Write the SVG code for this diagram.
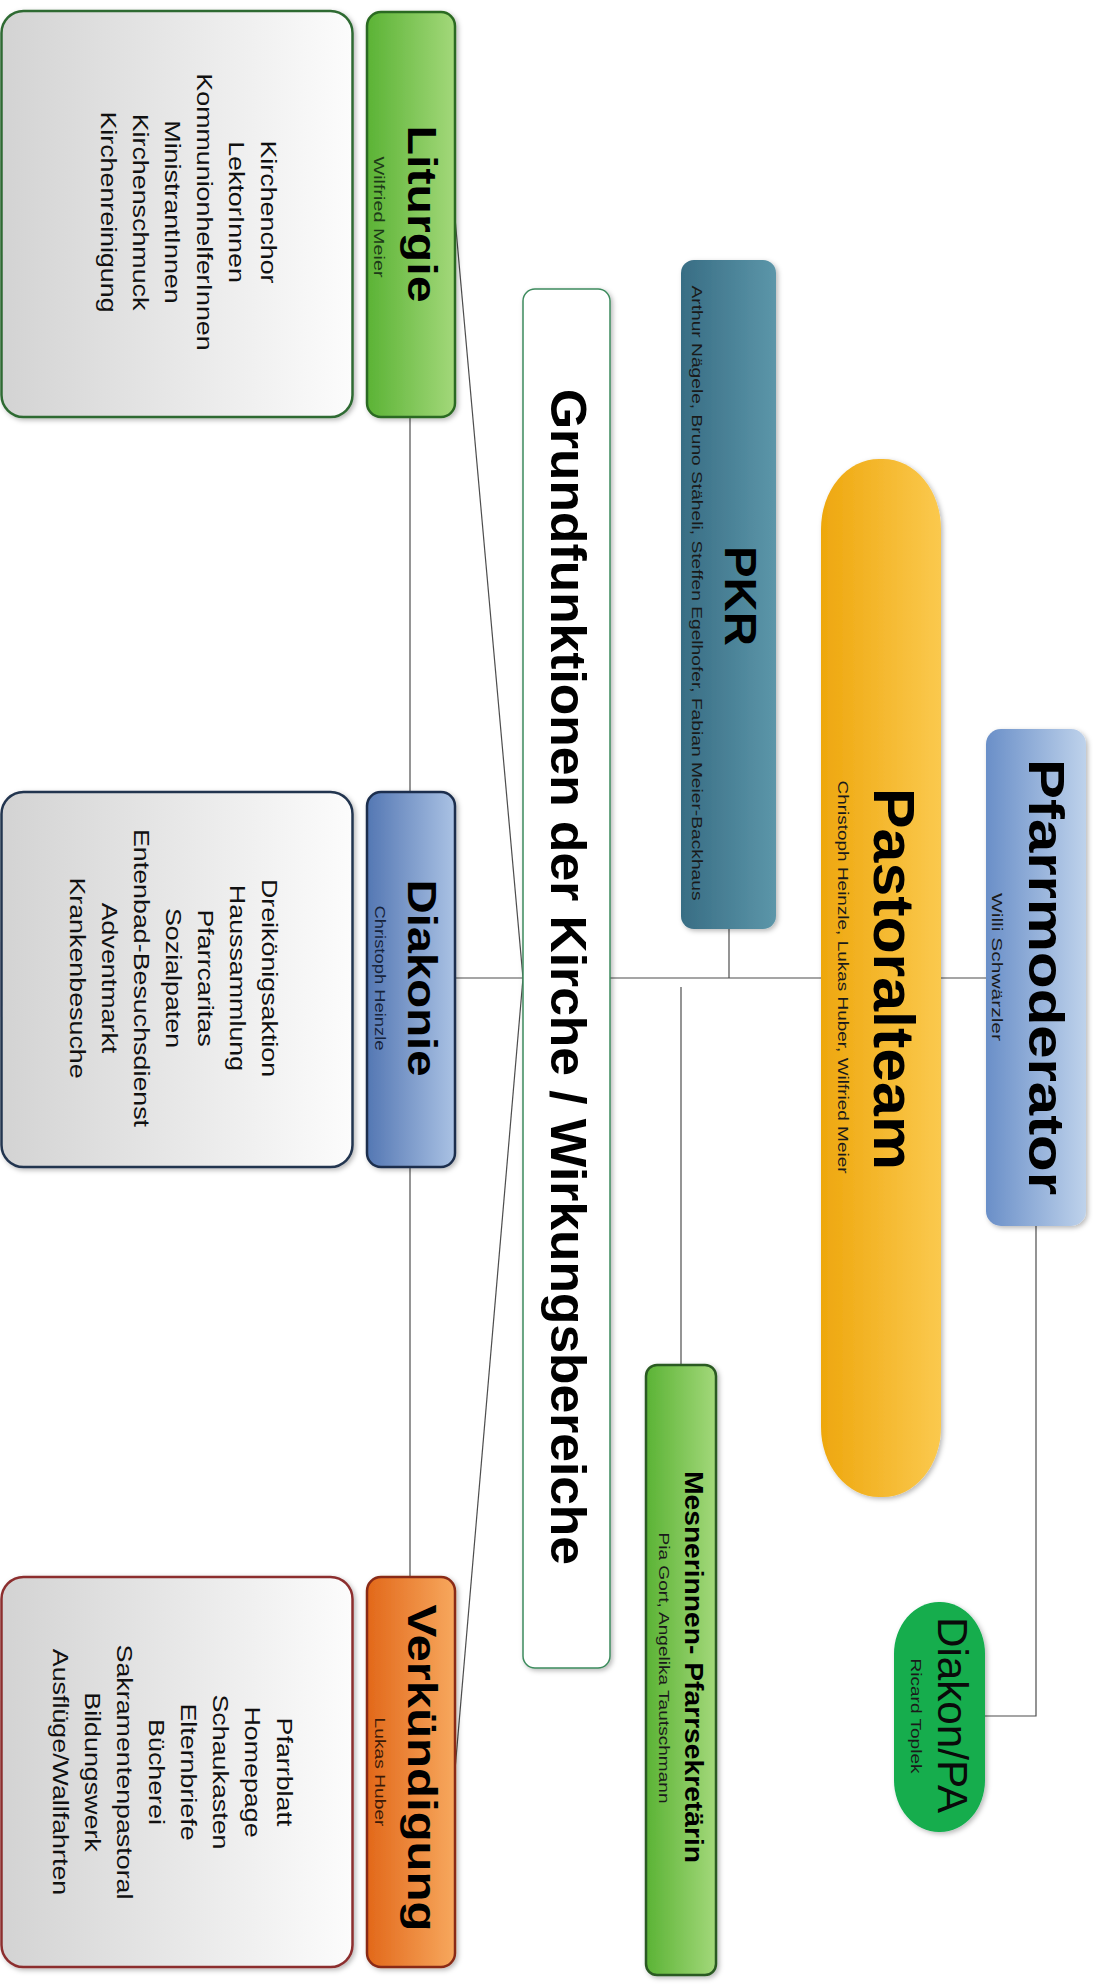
<svg xmlns="http://www.w3.org/2000/svg" width="1093" height="1986" viewBox="0 0 1093 1986">
<defs>
<linearGradient id="gList" x1="0" y1="0" x2="1" y2="0"><stop offset="0" stop-color="#d3d3d3"/><stop offset="1" stop-color="#fcfcfc"/></linearGradient>
<linearGradient id="gGreen" x1="0" y1="0" x2="1" y2="0"><stop offset="0" stop-color="#5bb335"/><stop offset="1" stop-color="#a3d87a"/></linearGradient>
<linearGradient id="gBlue" x1="0" y1="0" x2="1" y2="0"><stop offset="0" stop-color="#5477b3"/><stop offset="1" stop-color="#aac2e4"/></linearGradient>
<linearGradient id="gOrange" x1="0" y1="0" x2="1" y2="0"><stop offset="0" stop-color="#e2681a"/><stop offset="1" stop-color="#f7a85e"/></linearGradient>
<linearGradient id="gTeal" x1="0" y1="0" x2="1" y2="0"><stop offset="0" stop-color="#386d84"/><stop offset="1" stop-color="#5c96a9"/></linearGradient>
<linearGradient id="gYellow" x1="0" y1="0" x2="1" y2="0"><stop offset="0" stop-color="#eea70e"/><stop offset="1" stop-color="#fbc94e"/></linearGradient>
<linearGradient id="gLightBlue" x1="0" y1="0" x2="1" y2="0"><stop offset="0" stop-color="#6a8fc8"/><stop offset="1" stop-color="#bed2eb"/></linearGradient>
<filter id="sh" x="-20%" y="-5%" width="140%" height="110%"><feDropShadow dx="2" dy="2" stdDeviation="2.5" flood-color="#000" flood-opacity="0.28"/></filter>
</defs>
<style>
text{font-family:"Liberation Sans",Arial,sans-serif;fill:#111;}
.b{font-weight:bold;fill:#000;}
.list{font-size:22px;}
.small{font-size:14px;fill:#1a1a1a;}
.line{stroke:#4d4d4d;stroke-width:1.2;fill:none;}
</style>
<rect width="1093" height="1986" fill="#fff"/>

<g id="connectors">
<line class="line" x1="410" y1="417" x2="410" y2="1577"/>
<line class="line" x1="455" y1="978" x2="986" y2="978"/>
<line class="line" x1="455" y1="218" x2="523" y2="978"/>
<line class="line" x1="523" y1="978" x2="455" y2="1770"/>
<line class="line" x1="729" y1="929" x2="729" y2="978"/>
<line class="line" x1="681" y1="987" x2="681" y2="1365"/>
<polyline class="line" points="1036,1226 1036,1716 985,1716"/>
</g>

<g id="liturgie-list">
<rect x="1.5" y="11" width="351" height="406" rx="22" ry="22" fill="url(#gList)" stroke="#2f6a33" stroke-width="2.5" filter="url(#sh)"/>
<text class="list" text-anchor="middle" transform="translate(0,212) rotate(90) scale(1.22,1)"><tspan x="0" y="-261">Kirchenchor</tspan><tspan x="0" y="-229">LektorInnen</tspan><tspan x="0" y="-197">KommunionhelferInnen</tspan><tspan x="0" y="-165">MinistrantInnen</tspan><tspan x="0" y="-133">Kirchenschmuck</tspan><tspan x="0" y="-101">Kirchenreinigung</tspan></text>
</g>
<g id="liturgie">
<rect x="367" y="12" width="88" height="405" rx="14" ry="14" fill="url(#gGreen)" stroke="#2c6a22" stroke-width="2.5" filter="url(#sh)"/>
<text class="b" font-size="40" text-anchor="middle" textLength="177" lengthAdjust="spacingAndGlyphs" transform="translate(408,214) rotate(90)">Liturgie</text>
<text class="small" text-anchor="middle" textLength="121" lengthAdjust="spacingAndGlyphs" transform="translate(374,217) rotate(90)" style="fill:#1d3a18">Wilfried Meier</text>
</g>

<g id="diakonie-list">
<rect x="1.5" y="792" width="351" height="375" rx="22" ry="22" fill="url(#gList)" stroke="#22344f" stroke-width="2.5" filter="url(#sh)"/>
<text class="list" text-anchor="middle" transform="translate(0,978) rotate(90) scale(1.22,1)"><tspan x="0" y="-262">Dreikönigsaktion</tspan><tspan x="0" y="-230">Haussammlung</tspan><tspan x="0" y="-198">Pfarrcaritas</tspan><tspan x="0" y="-166">Sozialpaten</tspan><tspan x="0" y="-134">Entenbad-Besuchsdienst</tspan><tspan x="0" y="-102">Adventmarkt</tspan><tspan x="0" y="-70">Krankenbesuche</tspan></text>
</g>
<g id="diakonie">
<rect x="367" y="792" width="88" height="375" rx="14" ry="14" fill="url(#gBlue)" stroke="#1d2f4d" stroke-width="2.5" filter="url(#sh)"/>
<text class="b" font-size="40" text-anchor="middle" textLength="197" lengthAdjust="spacingAndGlyphs" transform="translate(408,978) rotate(90)">Diakonie</text>
<text class="small" text-anchor="middle" textLength="145" lengthAdjust="spacingAndGlyphs" transform="translate(375,978) rotate(90)" style="fill:#16233a">Christoph Heinzle</text>
</g>

<g id="verkuendigung-list">
<rect x="1.5" y="1577" width="351" height="390" rx="22" ry="22" fill="url(#gList)" stroke="#8c2f2f" stroke-width="2.5" filter="url(#sh)"/>
<text class="list" text-anchor="middle" transform="translate(0,1772) rotate(90) scale(1.22,1)"><tspan x="0" y="-277">Pfarrblatt</tspan><tspan x="0" y="-245">Homepage</tspan><tspan x="0" y="-213">Schaukasten</tspan><tspan x="0" y="-181">Elternbriefe</tspan><tspan x="0" y="-149">Bücherei</tspan><tspan x="0" y="-117">Sakramentenpastoral</tspan><tspan x="0" y="-85">Bildungswerk</tspan><tspan x="0" y="-53">Ausflüge/Wallfahrten</tspan></text>
</g>
<g id="verkuendigung">
<rect x="367" y="1577" width="88" height="390" rx="14" ry="14" fill="url(#gOrange)" stroke="#8a2c17" stroke-width="2.5" filter="url(#sh)"/>
<text class="b" font-size="40" text-anchor="middle" textLength="327" lengthAdjust="spacingAndGlyphs" transform="translate(408,1768) rotate(90)">Verkündigung</text>
<text class="small" text-anchor="middle" textLength="109" lengthAdjust="spacingAndGlyphs" transform="translate(375,1772) rotate(90)" style="fill:#3a1a08">Lukas Huber</text>
</g>

<g id="grundfunktionen">
<rect x="523" y="289" width="87" height="1379" rx="12" ry="12" fill="#fff" stroke="#3d8b5d" stroke-width="1.5" filter="url(#sh)"/>
<text class="b" font-size="50" text-anchor="middle" textLength="1176" lengthAdjust="spacingAndGlyphs" transform="translate(551,977) rotate(90)">Grundfunktionen der Kirche / Wirkungsbereiche</text>
</g>

<g id="pkr">
<rect x="681" y="260" width="95" height="669" rx="13" ry="13" fill="url(#gTeal)" filter="url(#sh)"/>
<text class="b" font-size="44" text-anchor="middle" textLength="100" lengthAdjust="spacingAndGlyphs" transform="translate(725,596) rotate(90)">PKR</text>
<text class="small" font-size="15" text-anchor="middle" textLength="615" lengthAdjust="spacingAndGlyphs" transform="translate(692,593) rotate(90)">Arthur Nägele, Bruno Stäheli, Steffen Egelhofer, Fabian Meier-Backhaus</text>
</g>

<g id="pastoralteam">
<rect x="821" y="459" width="120" height="1038" rx="58" ry="70" fill="url(#gYellow)" filter="url(#sh)"/>
<text class="b" font-size="58" text-anchor="middle" textLength="382" lengthAdjust="spacingAndGlyphs" transform="translate(874,979) rotate(90)">Pastoralteam</text>
<text class="small" font-size="16" text-anchor="middle" textLength="393" lengthAdjust="spacingAndGlyphs" transform="translate(838,977) rotate(90)">Christoph Heinzle, Lukas Huber, Wilfried Meier</text>
</g>

<g id="pfarrmoderator">
<rect x="986" y="729" width="100" height="497" rx="15" ry="15" fill="url(#gLightBlue)" filter="url(#sh)"/>
<text class="b" font-size="50" text-anchor="middle" textLength="436" lengthAdjust="spacingAndGlyphs" transform="translate(1029,977) rotate(90)">Pfarrmoderator</text>
<text class="small" font-size="15" text-anchor="middle" textLength="148" lengthAdjust="spacingAndGlyphs" transform="translate(992,967) rotate(90)">Willi Schwärzler</text>
</g>

<g id="mesnerinnen">
<rect x="646" y="1365" width="70" height="610" rx="11" ry="11" fill="url(#gGreen)" stroke="#2b5a22" stroke-width="2.5" filter="url(#sh)"/>
<text class="b" font-size="25" text-anchor="middle" textLength="392" lengthAdjust="spacingAndGlyphs" transform="translate(685,1667) rotate(90)">Mesnerinnen- Pfarrsekretärin</text>
<text class="small" text-anchor="middle" textLength="271" lengthAdjust="spacingAndGlyphs" transform="translate(659,1668) rotate(90)">Pia Gort, Angelika Tautschmann</text>
</g>

<g id="diakon-pa">
<rect x="894" y="1602" width="91" height="230" rx="45" ry="52" fill="#12ad4e" filter="url(#sh)"/>
<text font-size="42" text-anchor="middle" textLength="196" lengthAdjust="spacingAndGlyphs" transform="translate(938,1715) rotate(90)" style="fill:#0a0a0a">Diakon/PA</text>
<text class="small" text-anchor="middle" textLength="115" lengthAdjust="spacingAndGlyphs" transform="translate(911,1716) rotate(90)">Ricard Toplek</text>
</g>
</svg>
